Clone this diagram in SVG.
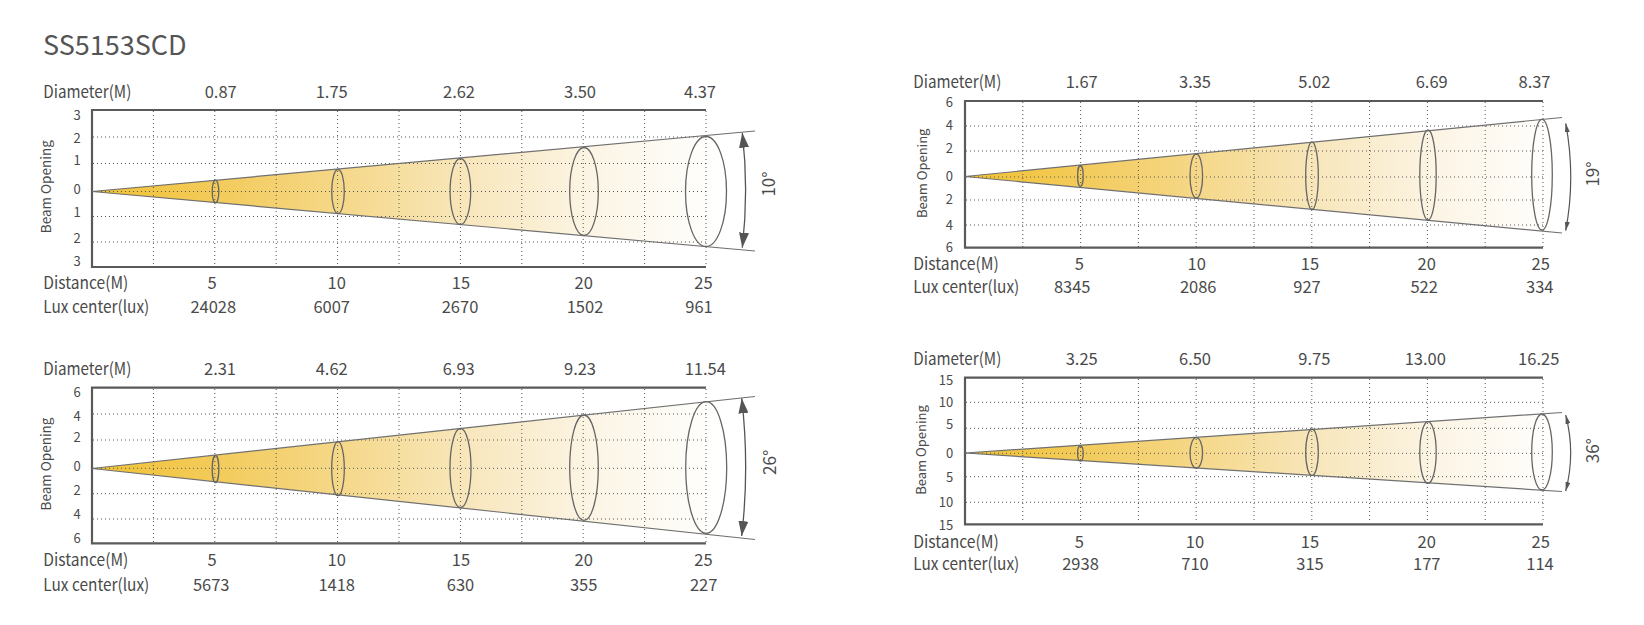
<svg xmlns="http://www.w3.org/2000/svg" width="1644" height="625" viewBox="0 0 1644 625">
<style>
text{font-family:"Noto Sans CJK SC","Noto Sans",sans-serif;fill:#4a4a4a}
.t{font-size:27px;fill:#555}
.lb{font-size:17px}
.v{font-size:16.5px;text-anchor:middle}
.tk{font-size:13px;text-anchor:middle}
.tke{font-size:13px;text-anchor:end}
.bo{font-size:13.5px;text-anchor:middle}
.bo2{font-size:13px;text-anchor:middle}
.deg{font-size:17px;text-anchor:middle}
.box{fill:none;stroke:#5a5a5a;stroke-width:2.2}
.grid{fill:none;stroke:#555;stroke-width:1;stroke-dasharray:1 3}
.edge{fill:none;stroke:#707070;stroke-width:1.2}
.ell{fill:none;stroke:#666;stroke-width:1.3}
.arL{fill:none;stroke:#555;stroke-width:1.3;marker-start:url(#mL);marker-end:url(#mL)}
.arS{fill:none;stroke:#555;stroke-width:1.2;marker-start:url(#mS);marker-end:url(#mS)}
</style>
<defs>
<marker id="mL" markerUnits="userSpaceOnUse" markerWidth="15" markerHeight="10" refX="15" refY="5" orient="auto-start-reverse"><path d="M0 0 L15 5 L0 10 Z" fill="#555"/></marker>
<marker id="mS" markerUnits="userSpaceOnUse" markerWidth="9" markerHeight="5" refX="9" refY="2.5" orient="auto-start-reverse"><path d="M0 0 L9 2.5 L0 5 Z" fill="#555"/></marker>
<linearGradient id="g1" gradientUnits="userSpaceOnUse" x1="92" y1="0" x2="722" y2="0">
<stop offset="0" stop-color="#F1C232"/><stop offset="0.2" stop-color="#F3CB5B"/><stop offset="0.4" stop-color="#F5D88A"/><stop offset="0.6" stop-color="#F8E7BD"/><stop offset="0.8" stop-color="#FCF5E6"/><stop offset="1" stop-color="#FFFFFF"/>
</linearGradient>
<linearGradient id="g2" gradientUnits="userSpaceOnUse" x1="965" y1="0" x2="1558" y2="0">
<stop offset="0" stop-color="#F1C232"/><stop offset="0.2" stop-color="#F3CB5B"/><stop offset="0.4" stop-color="#F5D88A"/><stop offset="0.6" stop-color="#F8E7BD"/><stop offset="0.8" stop-color="#FCF5E6"/><stop offset="1" stop-color="#FFFFFF"/>
</linearGradient>
</defs>
<rect width="1644" height="625" fill="#fff"/>
<text class="t" x="43" y="55">SS5153SCD</text>

<g id="chart-10deg">
<path d="M92 191.5 L755 131 L755 251 Z" fill="url(#g1)"/>
<path class="grid" d="M153.4 111V266M214.8 111V266M276.2 111V266M337.6 111V266M399 111V266M460.4 111V266M521.8 111V266M583.2 111V266M644.6 111V266M706 111V266M93 137H706M93 163.5H706M93 191.5H706M93 216.5H706M93 242H706"/>
<path class="box" d="M706 110H92V267H706"/>
<path class="edge" d="M755 131L92 191.5L755 251"/>
<ellipse class="ell" cx="215.5" cy="191.5" rx="3.3" ry="11.3"/>
<ellipse class="ell" cx="338" cy="191.5" rx="6.3" ry="22"/>
<ellipse class="ell" cx="460.4" cy="191.5" rx="10.3" ry="33"/>
<ellipse class="ell" cx="584" cy="191.5" rx="14.3" ry="44"/>
<ellipse class="ell" cx="706" cy="191.5" rx="20.5" ry="55"/>
<path class="arL" d="M742.3 132.7 A500 500 0 0 1 742.3 247.7"/>
<text class="deg" transform="translate(775 184) rotate(-90)">10°</text>
<text class="bo" transform="translate(50.5 186.7) rotate(-90)">Beam Opening</text>
<text class="tk" x="77" y="120.4">3</text><text class="tk" x="77" y="142.5">2</text><text class="tk" x="77" y="164.7">1</text><text class="tk" x="77" y="194">0</text><text class="tk" x="77" y="217.4">1</text><text class="tk" x="77" y="242.7">2</text><text class="tk" x="77" y="266">3</text>
<text class="lb" x="43.3" y="97.5" textLength="88" lengthAdjust="spacingAndGlyphs">Diameter(M)</text>
<text class="v" x="220.7" y="98">0.87</text><text class="v" x="331.7" y="98">1.75</text><text class="v" x="459" y="98">2.62</text><text class="v" x="580" y="98">3.50</text><text class="v" x="700" y="98">4.37</text>
<text class="lb" x="43.3" y="289" textLength="85" lengthAdjust="spacingAndGlyphs">Distance(M)</text>
<text class="v" x="212" y="289">5</text><text class="v" x="336.7" y="289">10</text><text class="v" x="461" y="289">15</text><text class="v" x="583.7" y="289">20</text><text class="v" x="703.5" y="289">25</text>
<text class="lb" x="43.3" y="313" textLength="106" lengthAdjust="spacingAndGlyphs">Lux center(lux)</text>
<text class="v" x="213.3" y="313">24028</text><text class="v" x="331.7" y="313">6007</text><text class="v" x="460" y="313">2670</text><text class="v" x="585" y="313">1502</text><text class="v" x="699" y="313">961</text>
</g>

<g id="chart-19deg">
<path d="M965 176.5 L1562 117.5 L1562 233 Z" fill="url(#g2)"/>
<path class="grid" d="M1022.8 102V247M1080.6 102V247M1138.4 102V247M1196.2 102V247M1254 102V247M1311.8 102V247M1369.6 102V247M1427.4 102V247M1485.2 102V247M1543 102V247M966 126H1543M966 151H1543M966 177H1543M966 200H1543M966 225H1543"/>
<path class="box" d="M1543 101H965V247.7H1543"/>
<path class="edge" d="M1562 117.5L965 176.5L1562 233"/>
<ellipse class="ell" cx="1080.4" cy="176" rx="2.8" ry="10.5"/>
<ellipse class="ell" cx="1196.3" cy="176" rx="6.3" ry="22"/>
<ellipse class="ell" cx="1312" cy="175.7" rx="6.3" ry="33.7"/>
<ellipse class="ell" cx="1428" cy="175" rx="8.2" ry="45"/>
<ellipse class="ell" cx="1542" cy="174.7" rx="10.3" ry="55.3"/>
<path class="arS" d="M1565.7 123.3 A290 290 0 0 1 1565.7 230.7"/>
<text class="deg" transform="translate(1599 174) rotate(-90)">19°</text>
<text class="bo2" transform="translate(926.5 173.3) rotate(-90)">Beam Opening</text>
<text class="tk" x="949.3" y="107">6</text><text class="tk" x="949.3" y="130.4">4</text><text class="tk" x="949.3" y="152.7">2</text><text class="tk" x="949.3" y="181.4">0</text><text class="tk" x="949.3" y="204.4">2</text><text class="tk" x="949.3" y="230">4</text><text class="tk" x="949.3" y="251.5">6</text>
<text class="lb" x="913.3" y="88.3" textLength="88" lengthAdjust="spacingAndGlyphs">Diameter(M)</text>
<text class="v" x="1081.7" y="88.3">1.67</text><text class="v" x="1195" y="88.3">3.35</text><text class="v" x="1314.3" y="88.3">5.02</text><text class="v" x="1431.7" y="88.3">6.69</text><text class="v" x="1534.5" y="88.3">8.37</text>
<text class="lb" x="913.3" y="270.3" textLength="85.5" lengthAdjust="spacingAndGlyphs">Distance(M)</text>
<text class="v" x="1079.3" y="270.3">5</text><text class="v" x="1196.7" y="270.3">10</text><text class="v" x="1310" y="270.3">15</text><text class="v" x="1426.7" y="270.3">20</text><text class="v" x="1540.7" y="270.3">25</text>
<text class="lb" x="913.3" y="292.5" textLength="106" lengthAdjust="spacingAndGlyphs">Lux center(lux)</text>
<text class="v" x="1072.2" y="292.5">8345</text><text class="v" x="1198.2" y="292.5">2086</text><text class="v" x="1307" y="292.5">927</text><text class="v" x="1424.2" y="292.5">522</text><text class="v" x="1539.8" y="292.5">334</text>
</g>

<g id="chart-26deg">
<path d="M92 468.5 L755 396.5 L755 539.5 Z" fill="url(#g1)"/>
<path class="grid" d="M153.4 389V542M214.8 389V542M276.2 389V542M337.6 389V542M399 389V542M460.4 389V542M521.8 389V542M583.2 389V542M644.6 389V542M706 389V542M93 414H706M93 440H706M93 468.3H706M93 493.7H706M93 519H706"/>
<path class="box" d="M706 387.7H92V543.3H706"/>
<path class="edge" d="M755 396.5L92 468.5L755 539.5"/>
<ellipse class="ell" cx="215.5" cy="469" rx="3.3" ry="13.5"/>
<ellipse class="ell" cx="338" cy="468.7" rx="6.3" ry="27"/>
<ellipse class="ell" cx="460.5" cy="468" rx="10.5" ry="39.7"/>
<ellipse class="ell" cx="584" cy="467.7" rx="14.3" ry="52.7"/>
<ellipse class="ell" cx="706.2" cy="467.5" rx="20.5" ry="65.8"/>
<path class="arL" d="M741.7 398.3 A600 600 0 0 1 741.7 536"/>
<text class="deg" transform="translate(775.7 462.3) rotate(-90)">26°</text>
<text class="bo" transform="translate(50.5 464) rotate(-90)">Beam Opening</text>
<text class="tk" x="77" y="397">6</text><text class="tk" x="77" y="420.7">4</text><text class="tk" x="77" y="442.4">2</text><text class="tk" x="77" y="471.4">0</text><text class="tk" x="77" y="494.7">2</text><text class="tk" x="77" y="518.7">4</text><text class="tk" x="77" y="543.3">6</text>
<text class="lb" x="43.3" y="375" textLength="88" lengthAdjust="spacingAndGlyphs">Diameter(M)</text>
<text class="v" x="220" y="375">2.31</text><text class="v" x="331.7" y="375">4.62</text><text class="v" x="458.7" y="375">6.93</text><text class="v" x="580" y="375">9.23</text><text class="v" x="705.3" y="375">11.54</text>
<text class="lb" x="43.3" y="566" textLength="85" lengthAdjust="spacingAndGlyphs">Distance(M)</text>
<text class="v" x="212" y="566">5</text><text class="v" x="336.7" y="566">10</text><text class="v" x="461" y="566">15</text><text class="v" x="583.7" y="566">20</text><text class="v" x="703.5" y="566">25</text>
<text class="lb" x="43.3" y="590.5" textLength="106" lengthAdjust="spacingAndGlyphs">Lux center(lux)</text>
<text class="v" x="211.2" y="590.7">5673</text><text class="v" x="336.7" y="590.7">1418</text><text class="v" x="460.5" y="590.7">630</text><text class="v" x="583.7" y="590.7">355</text><text class="v" x="703.7" y="590.7">227</text>
</g>

<g id="chart-36deg">
<path d="M965 453 L1562 412.5 L1562 491.5 Z" fill="url(#g2)"/>
<path class="grid" d="M1022.8 379V523M1080.6 379V523M1138.4 379V523M1196.2 379V523M1254 379V523M1311.8 379V523M1369.6 379V523M1427.4 379V523M1485.2 379V523M1543 379V523M966 402.3H1543M966 428.3H1543M966 453.3H1543M966 476.7H1543M966 502.3H1543"/>
<path class="box" d="M1543 377.7H965V524.3H1543"/>
<path class="edge" d="M1562 412.5L965 453L1562 491.5"/>
<ellipse class="ell" cx="1080.4" cy="453.5" rx="2.8" ry="7.5"/>
<ellipse class="ell" cx="1196.3" cy="453" rx="6.3" ry="15.3"/>
<ellipse class="ell" cx="1312" cy="452.3" rx="6.3" ry="23.3"/>
<ellipse class="ell" cx="1428" cy="452.5" rx="8.2" ry="30.8"/>
<ellipse class="ell" cx="1542" cy="452" rx="10.3" ry="38"/>
<path class="arS" d="M1565.7 415 A150 150 0 0 1 1565.7 491"/>
<text class="deg" transform="translate(1599 450.7) rotate(-90)">36°</text>
<text class="bo2" transform="translate(925.5 450) rotate(-90)">Beam Opening</text>
<text class="tke" x="953.3" y="384.7">15</text><text class="tke" x="953.3" y="407.4">10</text><text class="tke" x="953.3" y="428.7">5</text><text class="tke" x="953.3" y="458">0</text><text class="tke" x="953.3" y="481.7">5</text><text class="tke" x="953.3" y="507.4">10</text><text class="tke" x="953.3" y="529.5">15</text>
<text class="lb" x="913.3" y="365" textLength="88" lengthAdjust="spacingAndGlyphs">Diameter(M)</text>
<text class="v" x="1081.7" y="365">3.25</text><text class="v" x="1195" y="365">6.50</text><text class="v" x="1314.3" y="365">9.75</text><text class="v" x="1425.3" y="365">13.00</text><text class="v" x="1538.7" y="365">16.25</text>
<text class="lb" x="913.3" y="548" textLength="85.5" lengthAdjust="spacingAndGlyphs">Distance(M)</text>
<text class="v" x="1079.3" y="548">5</text><text class="v" x="1195" y="548">10</text><text class="v" x="1310" y="548">15</text><text class="v" x="1426.7" y="548">20</text><text class="v" x="1540.7" y="548">25</text>
<text class="lb" x="913.3" y="570.3" textLength="106" lengthAdjust="spacingAndGlyphs">Lux center(lux)</text>
<text class="v" x="1080.5" y="570.3">2938</text><text class="v" x="1195" y="570.3">710</text><text class="v" x="1310" y="570.3">315</text><text class="v" x="1426.8" y="570.3">177</text><text class="v" x="1540" y="570.3">114</text>
</g>
</svg>
